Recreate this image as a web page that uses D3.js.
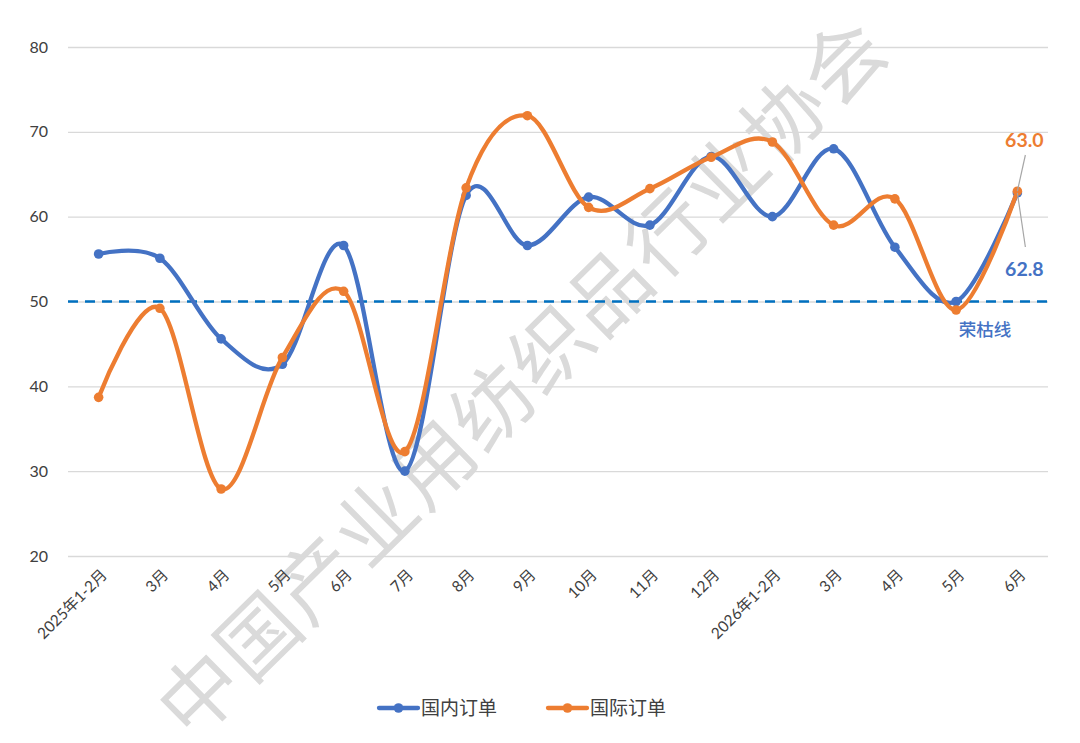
<!DOCTYPE html>
<html>
<head>
<meta charset="utf-8">
<script src="https://cdn.jsdelivr.net/npm/d3@7"></script>
<style>
  html, body { margin: 0; padding: 0; background: #fff; }
  svg { display: block; font-family: Lato, "Noto Sans CJK SC", sans-serif; }
</style>
</head>
<body>
<svg id="chart"></svg>
<script>
// 数据
var categories = ['2025年1-2月','3月','4月','5月','6月','7月','8月','9月','10月','11月','12月','2026年1-2月','3月','4月','5月','6月'];
var domestic = [55.6, 55.1, 45.6, 42.6, 56.6, 30.0, 62.5, 56.6, 62.3, 59.0, 67.1, 60.0, 68.0, 56.4, 50.0, 62.8];
var international = [38.7, 49.2, 27.9, 43.4, 51.2, 32.3, 63.4, 71.9, 61.1, 63.3, 67.0, 68.8, 59.0, 62.1, 49.0, 63.0];
var yTicks = [20, 30, 40, 50, 60, 70, 80];
var seriesNames = ['国内订单', '国际订单'];
var boomLine = 50;

var W = 1080, H = 743;
var pLeft = 68, pRight = 1048, pTop = 47, pBottom = 556;
var blue = '#4472c4', orange = '#ed7d31';

var svg = d3.select('#chart').attr('width', W).attr('height', H);

var x = d3.scalePoint().domain(d3.range(categories.length)).range([pLeft, pRight]).padding(0.5);
var y = d3.scaleLinear().domain([20, 80]).range([pBottom, pTop]);

// 水印
svg.append('text')
  .attr('transform', 'translate(523,378) rotate(-44.5)')
  .attr('text-anchor', 'middle')
  .attr('dy', '0.35em')
  .attr('font-family', '"Noto Sans CJK SC"')
  .attr('font-weight', 400)
  .attr('font-size', 80)
  .attr('fill', '#dadada')
  .attr('letter-spacing', 2)
  .text('中国产业用纺织品行业协会');

// 网格线
var yAxis = d3.axisLeft(y).tickValues(yTicks).tickSize(-(pRight - pLeft)).tickPadding(20);
var gy = svg.append('g').attr('transform', 'translate(' + pLeft + ',0)').call(yAxis);
gy.select('.domain').remove();
gy.selectAll('.tick line').attr('stroke', '#d9d9d9').attr('stroke-width', 1.3);
gy.selectAll('.tick text').attr('fill', '#404040').attr('font-size', 16)
  .attr('font-family', 'Lato, "Noto Sans CJK SC"');

// x 轴标签
var xAxis = d3.axisBottom(x).tickSize(0).tickFormat(function(i) { return categories[i]; });
var gx = svg.append('g').attr('transform', 'translate(0,' + pBottom + ')').call(xAxis);
gx.select('.domain').remove();
gx.selectAll('.tick text')
  .attr('fill', '#404040').attr('font-size', 15.5)
  .attr('font-family', 'Lato, "Noto Sans CJK SC"')
  .attr('text-anchor', 'end')
  .attr('y', 0).attr('dy', '0.35em')
  .attr('transform', 'translate(5,16) rotate(-45)');

// 荣枯线
svg.append('line')
  .attr('x1', pLeft).attr('x2', pRight)
  .attr('y1', y(boomLine)).attr('y2', y(boomLine))
  .attr('stroke', '#0070c0').attr('stroke-width', 2.6)
  .attr('stroke-dasharray', '10,7');

svg.append('text')
  .attr('x', 985).attr('y', y(boomLine) + 34)
  .attr('text-anchor', 'middle')
  .attr('font-family', '"Noto Sans CJK SC"')
  .attr('font-weight', 500)
  .attr('font-size', 17.5)
  .attr('fill', blue)
  .text('荣枯线');

var line = d3.line()
  .x(function(d, i) { return x(i); })
  .y(function(d) { return y(d); })
  .curve(d3.curveCardinal.tension(0));

var series = [
  { name: seriesNames[0], values: domestic, color: blue },
  { name: seriesNames[1], values: international, color: orange }
];

series.forEach(function(s) {
  var g = svg.append('g');
  g.append('path').datum(s.values)
    .attr('d', line)
    .attr('fill', 'none')
    .attr('stroke', s.color)
    .attr('stroke-width', 4.3)
    .attr('stroke-linejoin', 'round')
    .attr('stroke-linecap', 'round');
  g.selectAll('circle').data(s.values).enter().append('circle')
    .attr('cx', function(d, i) { return x(i); })
    .attr('cy', function(d) { return y(d); })
    .attr('r', 4.8)
    .attr('fill', s.color);
});

// 末端数据标签
var last = categories.length - 1;
var xl = x(last);
svg.append('line')
  .attr('x1', xl + 8).attr('y1', 155).attr('x2', xl).attr('y2', y(international[last]))
  .attr('stroke', '#a6a6a6').attr('stroke-width', 1.2);
svg.append('line')
  .attr('x1', xl + 8).attr('y1', 247).attr('x2', xl).attr('y2', y(domestic[last]))
  .attr('stroke', '#a6a6a6').attr('stroke-width', 1.2);
svg.append('text')
  .attr('x', xl + 7).attr('y', 147)
  .attr('text-anchor', 'middle')
  .attr('font-weight', 700).attr('font-size', 19.5)
  .attr('fill', orange)
  .text(international[last].toFixed(1));
svg.append('text')
  .attr('x', xl + 7).attr('y', 276)
  .attr('text-anchor', 'middle')
  .attr('font-weight', 700).attr('font-size', 19.5)
  .attr('fill', blue)
  .text(domestic[last].toFixed(1));

// 图例
var legend = svg.append('g').attr('transform', 'translate(0,708)');
var legendX = [379, 548];
series.forEach(function(s, i) {
  var lg = legend.append('g').attr('transform', 'translate(' + legendX[i] + ',0)');
  lg.append('line').attr('x1', 0).attr('x2', 39).attr('y1', 0).attr('y2', 0)
    .attr('stroke', s.color).attr('stroke-width', 4.3).attr('stroke-linecap', 'round');
  lg.append('circle').attr('cx', 19.5).attr('cy', 0).attr('r', 4.8).attr('fill', s.color);
  lg.append('text').attr('x', 42).attr('y', 0).attr('dy', '0.35em')
    .attr('font-family', '"Noto Sans CJK SC"')
    .attr('font-size', 19).attr('fill', '#404040')
    .text(s.name);
});
</script>
</body>
</html>
